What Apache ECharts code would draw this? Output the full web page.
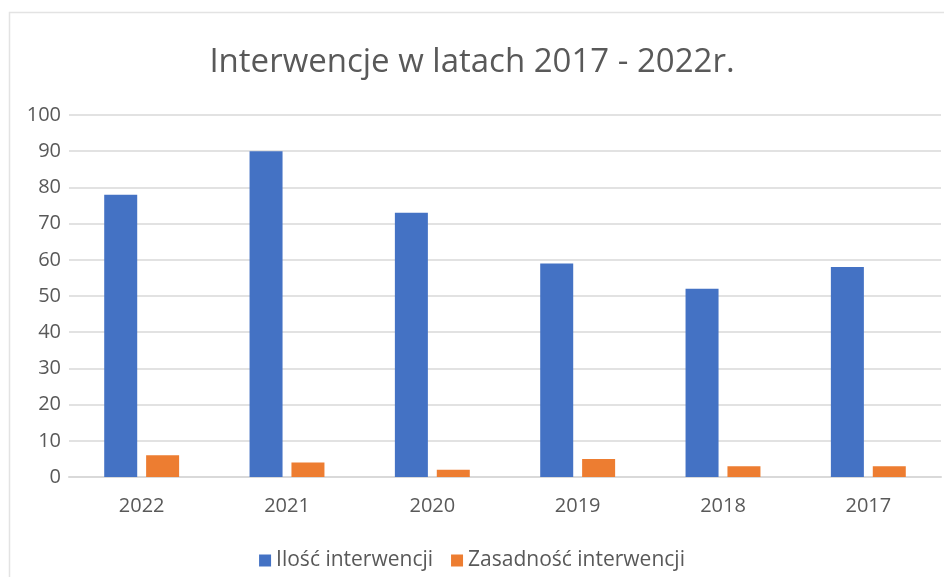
<!DOCTYPE html>
<html>
<head>
<meta charset="utf-8">
<script src="https://cdn.jsdelivr.net/npm/echarts@6/dist/echarts.min.js"></script>
<style>html,body{margin:0;padding:0;background:#fff}#c{width:944px;height:577px}</style>
</head>
<body>
<div id="c"></div>
<script>
var categories = ['2022', '2021', '2020', '2019', '2018', '2017'];
var iloscInterwencji = [78, 90, 73, 59, 52, 58];
var zasadnoscInterwencji = [6, 4, 2, 5, 3, 3];
var seriesNames = ['Ilość interwencji', 'Zasadność interwencji'];
var titleText = 'Interwencje w latach 2017 - 2022r.';

var chart = echarts.init(document.getElementById('c'), null, {renderer: 'canvas'});
var font = "'Open Sans', sans-serif";
chart.setOption({
  animation: false,
  backgroundColor: '#ffffff',
  graphic: [{
    type: 'rect', left: 7, top: 10, shape: {width: 960, height: 600},
    style: {fill: 'none', stroke: '#e3e3e3', lineWidth: 1.5}, silent: true
  }],
  title: {
    text: titleText, left: 'center', top: 41,
    textStyle: {fontFamily: font, fontSize: 33, fontWeight: 'normal', color: '#595959'}
  },
  legend: {
    data: seriesNames, bottom: 1, left: 'center',
    itemWidth: 12, itemHeight: 12, itemGap: 18, icon: 'rect',
    textStyle: {fontFamily: font, fontSize: 21, color: '#595959'}
  },
  grid: {left: 69, right: 3, top: 115, bottom: 100, containLabel: false},
  xAxis: {
    type: 'category', data: categories,
    axisLine: {show: true, lineStyle: {color: '#d9d9d9', width: 2}},
    axisTick: {show: false},
    axisLabel: {fontFamily: font, fontSize: 20, color: '#595959', margin: 19}
  },
  yAxis: {
    type: 'value', min: 0, max: 100, interval: 10,
    axisLine: {show: false}, axisTick: {show: false},
    splitLine: {lineStyle: {color: '#d9d9d9', width: 1.5}},
    axisLabel: {fontFamily: font, fontSize: 20, color: '#595959', margin: 8}
  },
  series: [{
    name: seriesNames[0], type: 'bar', data: iloscInterwencji,
    itemStyle: {color: '#4472c4'}, barWidth: 33, barGap: '27%'
  }, {
    name: seriesNames[1], type: 'bar', data: zasadnoscInterwencji,
    itemStyle: {color: '#ed7d31'}, barWidth: 33, barGap: '27%'
  }]
});
</script>
</body>
</html>
